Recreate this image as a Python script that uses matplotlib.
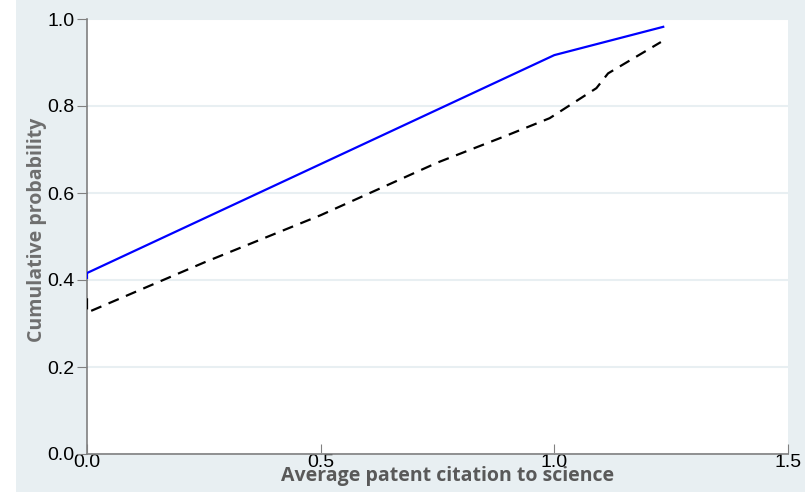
import matplotlib
matplotlib.use('Agg')
import matplotlib.pyplot as plt
from matplotlib.patches import Rectangle

# cumulative distributions
blue_x = [0.0, 0.0, 1.0, 1.233]
blue_y = [0.405, 0.416, 0.917, 0.982]

dash_x = [0.0, 0.0, 0.25, 0.5, 0.75, 0.9, 0.99, 1.09, 1.115, 1.228]
dash_y = [0.358, 0.325, 0.44, 0.549, 0.670, 0.733, 0.772, 0.841, 0.875, 0.947]

xticks = [0.0, 0.5, 1.0, 1.5]
yticks = [0.0, 0.2, 0.4, 0.6, 0.8, 1.0]

bg = '#e8eff2'

fig = plt.figure(figsize=(8.05, 4.92), dpi=100, facecolor='white')
fig.patches.append(Rectangle((16 / 805, 0), 1, 1, transform=fig.transFigure,
                             facecolor=bg, edgecolor='none', zorder=-10))
ax = fig.add_axes([87 / 805, 1 - 454 / 492, (788 - 87) / 805, (454 - 19) / 492])
ax.set_facecolor('white')

ax.plot(blue_x, blue_y, color='#0000ff', lw=1.6, zorder=3)
ax.plot(dash_x, dash_y, color='black', lw=1.6, dashes=(5, 3.5), zorder=3)

ax.set_xlim(0, 1.5)
ax.set_ylim(0, 1.0)
ax.set_xticks(xticks)
ax.set_yticks(yticks)
ax.set_xticklabels(['%.1f' % v for v in xticks], fontsize=14, family='Liberation Sans')
ax.set_yticklabels(['%.1f' % v for v in yticks], fontsize=14, family='Liberation Sans')
ax.tick_params(axis='y', direction='out', length=7, color='#808080', pad=2)
ax.tick_params(axis='x', direction='in', length=7, color='#808080', pad=0)

ax.grid(axis='y', color=bg, lw=1.5)
ax.set_axisbelow(True)
for s in ['top', 'right']:
    ax.spines[s].set_visible(False)
for s in ['left', 'bottom']:
    ax.spines[s].set_color('#808080')
    ax.spines[s].set_linewidth(1.2)

ax.set_xlabel('Average patent citation to science', fontsize=14, fontweight='bold',
              family='Open Sans', color='#595959')
ax.xaxis.set_label_coords((448 - 87) / 701, -(476 - 454) / 435)
ax.xaxis.label.set_va('center')
ax.set_ylabel('Cumulative probability', fontsize=14, fontweight='bold',
              family='Open Sans', color='#6e6e6e')
ax.yaxis.set_label_coords(-(87 - 37) / 701, (454 - 230) / 435)
ax.yaxis.label.set_va('center')

fig.savefig('out.png', dpi=100, facecolor='white')
